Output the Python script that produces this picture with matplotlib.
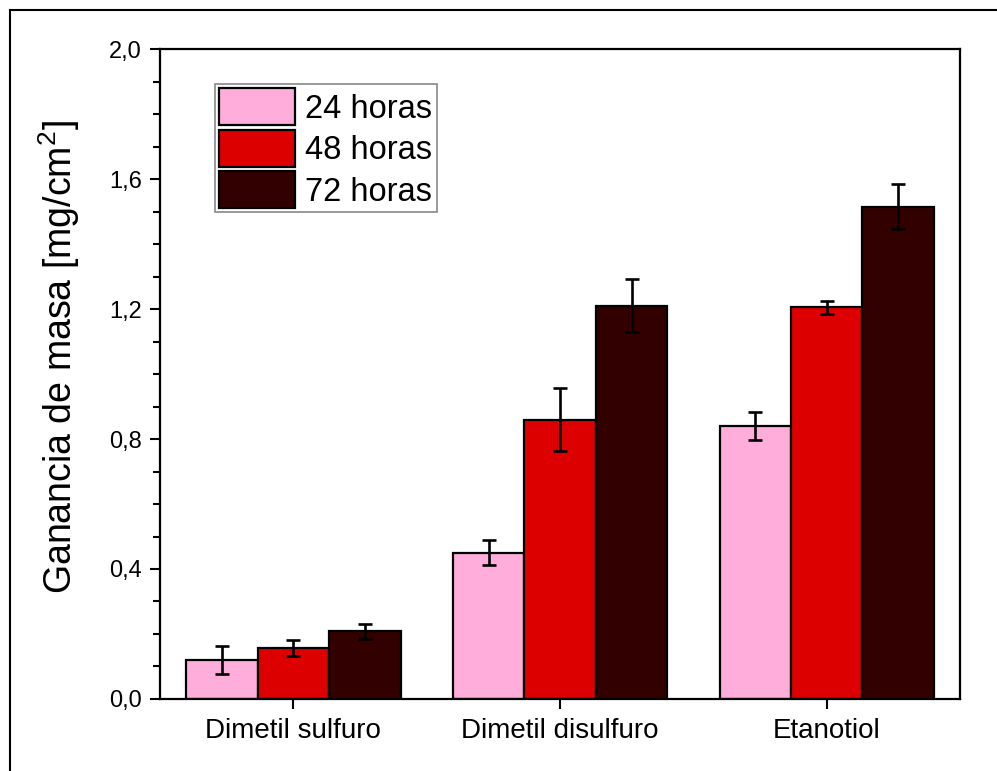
import matplotlib
matplotlib.use("Agg")
import matplotlib.pyplot as plt
import numpy as np
from matplotlib.lines import Line2D
from matplotlib.ticker import MultipleLocator, FuncFormatter

plt.rcParams['font.family'] = ['Liberation Sans', 'DejaVu Sans']
plt.rcParams['mathtext.fontset'] = 'custom'
plt.rcParams['mathtext.rm'] = 'Liberation Sans'
plt.rcParams['mathtext.it'] = 'Liberation Sans:italic'

# Data
compuestos = ["Dimetil sulfuro", "Dimetil disulfuro", "Etanotiol"]
series = ["24 horas", "48 horas", "72 horas"]
valores_24h = [0.12, 0.45, 0.84]
valores_48h = [0.157, 0.86, 1.205]
valores_72h = [0.208, 1.21, 1.515]
error_24h = [0.043, 0.038, 0.044]
error_48h = [0.025, 0.096, 0.020]
error_72h = [0.024, 0.082, 0.069]
colores = ["#FFADDA", "#DD0000", "#330000"]

valores = [valores_24h, valores_48h, valores_72h]
errores = [error_24h, error_48h, error_72h]

fig = plt.figure(figsize=(9.97, 7.71), dpi=100)
ax = fig.add_axes([0.1605, 0.0934, 0.8025, 0.843])

x = np.arange(1, len(compuestos) + 1)
ancho = 0.268
for i, (v, e, c, s) in enumerate(zip(valores, errores, colores, series)):
    pos = x + (i - 1) * ancho
    ax.bar(pos, v, width=ancho, color=c, edgecolor="black", linewidth=1.6,
           label=s, zorder=2)
    ax.errorbar(pos, v, yerr=e, fmt="none", ecolor="black", elinewidth=1.9,
                capsize=4.8, capthick=1.9, zorder=3)

ax.set_xlim(0.5, 3.5)
ax.set_ylim(0, 2.0)
ax.set_xticks(x)
ax.set_xticklabels(compuestos, fontsize=20)
ax.yaxis.set_major_locator(MultipleLocator(0.4))
ax.yaxis.set_minor_locator(MultipleLocator(0.1))
ax.yaxis.set_major_formatter(FuncFormatter(lambda v, p: f"{v:.1f}".replace(".", ",")))
ax.tick_params(axis="y", which="major", direction="out", length=7.5, width=1.5,
               labelsize=17, pad=5.5)
ax.tick_params(axis="y", which="minor", direction="out", length=5, width=1.5)
ax.tick_params(axis="x", which="major", direction="out", length=7.5, width=1.5, pad=6)
for sp in ax.spines.values():
    sp.set_linewidth(1.6)

ax.set_ylabel("Ganancia de masa [mg/cm$^2$]", fontsize=27)
ax.yaxis.set_label_coords(-0.097, 0.526)

leg = ax.legend(loc="upper left", bbox_to_anchor=(0.069, 0.946), fontsize=23.5,
                handlelength=2.3, handleheight=1.36, labelspacing=0.14,
                handletextpad=0.33, borderpad=0.13, borderaxespad=0,
                fancybox=False, framealpha=1)
leg.get_frame().set_edgecolor("#888888")
leg.get_frame().set_linewidth(1.2)

# Outer frame around the figure (top and left edges)
fig.add_artist(Line2D([0.01, 0.01], [0.0, 0.987], transform=fig.transFigure,
                      color="black", linewidth=1.5))
fig.add_artist(Line2D([0.01, 1.0], [0.987, 0.987], transform=fig.transFigure,
                      color="black", linewidth=1.5))

fig.savefig("out.png", dpi=100)
